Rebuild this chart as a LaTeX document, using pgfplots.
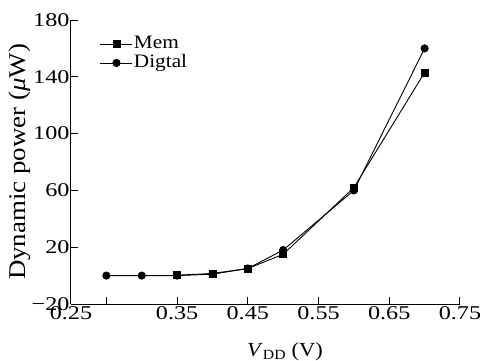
\documentclass[border=0pt]{standalone}
\usepackage{fontspec}
\setmainfont[FakeStretch=1.24]{Liberation Serif}
\newfontfamily\lblfont[FakeStretch=1.12]{Liberation Serif}
\usepackage{pgfplots}
\pgfplotsset{compat=1.18}
\begin{document}
\begin{tikzpicture}
\begin{axis}[
  scale only axis, width=389pt, height=284pt,
  xmin=0.2, xmax=0.75, ymin=-20, ymax=180,
  axis x line=bottom, axis y line=left,
  axis line style={-, line width=1pt},
  tick align=inside, major tick length=7pt,
  tick style={line width=1pt, black},
  xtick={0.2,0.25,0.35,0.45,0.55,0.65,0.75},
  xticklabels={0.25,,0.35,0.45,0.55,0.65,0.75},
  ytick={-20,20,60,100,140,180},
  yticklabels={−20,20,60,100,140,180},
  ticklabel style={font=\fontsize{19.5}{21}\selectfont},
  yticklabel style={xshift=2pt},
  xticklabel style={yshift=1pt},
  xlabel={\textit{V}\textsubscript{DD} (V)},
  xlabel style={font=\lblfont\fontsize{20}{22}\selectfont, at={(axis description cs:0.55,0)}, anchor=base, yshift=-52pt},
  ylabel={Dynamic power (\textit{μ}W)},
  ylabel style={font=\lblfont\fontsize{24}{26}\selectfont, at={(axis description cs:-0.118,0.5)}, anchor=base},
  legend style={draw=none, fill=none, at={(0.0746,0.949)}, anchor=north west,
    inner sep=0pt, outer sep=0pt, font=\lblfont\fontsize{19}{21}\selectfont,
    nodes={text height=13pt, text depth=4pt, inner sep=1pt},
    cells={anchor=west}},
  legend image code/.code={\draw[mark repeat=2,mark phase=2,#1] plot coordinates {(0pt,0pt)(16pt,0pt)(32pt,0pt)};},
  every axis plot/.append style={black, line width=0.9pt, mark options={solid, black}},
]
\addplot[mark=square*, mark size=3.5pt] coordinates {
  (0.35,0.3) (0.40,1.5) (0.45,5) (0.50,15) (0.60,62) (0.70,143)
};
\addlegendentry{Mem}
\addplot[mark=*, mark size=3.6pt] coordinates {
  (0.25,0) (0.30,0) (0.35,0) (0.40,1) (0.45,5) (0.50,18) (0.60,60) (0.70,160)
};
\addlegendentry{Digtal}
\end{axis}
\pgfresetboundingbox
\path ([shift={(-71pt,-56pt)}]current axis.south west) rectangle ([shift={(409pt,304pt)}]current axis.south west);
\end{tikzpicture}
\end{document}
